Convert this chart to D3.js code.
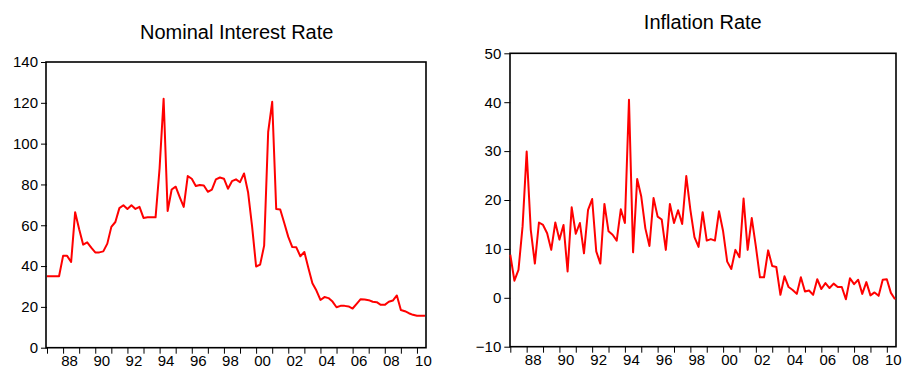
<!DOCTYPE html>
<html>
<head>
<meta charset="utf-8">
<script src="https://cdn.jsdelivr.net/npm/d3@7"></script>
<style>
  body { margin: 0; background: #fff; }
  svg { display: block; font-family: "Liberation Sans", Arial, sans-serif; }
</style>
</head>
<body>
<svg id="chart" width="903" height="371"></svg>
<script>
// Quarterly observations 1987Q1 .. 2010Q3
const startYear = 1987;
const tickYears = d3.range(1987, 2011);            // yearly tick marks
const labelYears = d3.range(1988, 2011, 2);        // labelled years
const interestTicks = [0, 20, 40, 60, 80, 100, 120, 140];
const inflationTicks = [-10, 0, 10, 20, 30, 40, 50];

const interestRate = [
  35, 35, 35, 35, 45, 45, 42, 66.4, 58, 50.5,
  51.6, 49, 46.7, 46.7, 47.2, 51, 59.2, 61.6, 68.4, 69.8,
  68, 69.8, 68, 69, 63.6, 63.9, 63.9, 63.9, 88, 122,
  67, 77.5, 78.9, 73.8, 69, 84.1, 82.8, 79.2, 79.7, 79.5,
  76.4, 77.5, 82.5, 83.4, 82.8, 77.9, 81.6, 82.5, 81.1, 85.4,
  76.2, 59.5, 39.8, 40.7, 50, 105.7, 120.5, 68, 67.7, 61.1,
  54.3, 49.3, 49.2, 44.8, 46.9, 39, 31.6, 28, 23.4, 24.8,
  24.3, 22.6, 19.8, 20.5, 20.5, 20.2, 19.2, 21.5, 23.8, 23.6,
  23.3, 22.5, 22.3, 21, 21, 22.5, 23.1, 25.6, 18.5, 17.9,
  16.9, 16.1, 15.7, 15.7, 15.6
];

const inflationRate = [
  8.8, 3.5, 5.7, 14.6, 29.9, 13.9, 7, 15.4, 14.9, 13.2,
  9.8, 15.4, 11.9, 14.9, 5.4, 18.5, 13.1, 15.3, 9.1, 18,
  20.2, 9.5, 7, 19.2, 13.6, 12.9, 11.7, 18.1, 15.3, 40.5,
  9.3, 24.3, 20.7, 14.2, 10.6, 20.4, 16.6, 16, 9.8, 19.2,
  15.3, 17.9, 15.1, 24.9, 18, 12.4, 10.4, 17.5, 11.7, 12,
  11.7, 17.7, 13.6, 7.4, 5.9, 9.8, 8.3, 20.3, 9.8, 16.3,
  10.5, 4.2, 4.2, 9.7, 6.5, 6.3, 0.6, 4.4, 2.2, 1.6,
  0.8, 4.2, 1.3, 1.5, 0.6, 3.8, 1.8, 3, 2, 2.9,
  2.2, 2.2, -0.3, 4, 2.8, 3.7, 0.8, 3.2, 0.5, 1.1,
  0.4, 3.7, 3.8, 1, -0.3
];

const svg = d3.select("#chart");

function panel(cfg) {
  const { left, right, top, bottom, yDomain, yTicks, values, title, titleX, titleY } = cfg;
  const n = values.length;
  const x = d3.scaleLinear().domain([0, n - 1]).range([left, right]);
  const y = d3.scaleLinear().domain(yDomain).range([bottom, top]);
  const g = svg.append("g");

  // y axis
  const yAxis = d3.axisLeft(y).tickValues(yTicks).tickSize(6).tickPadding(3).tickFormat(d3.format("d"));
  const ya = g.append("g").attr("transform", `translate(${x.range()[0] - (cfg.xPad || 0)},0)`).call(yAxis);
  ya.select(".domain").remove();
  ya.selectAll("text").attr("font-size", 15).attr("fill", "#000").attr("font-family", "Liberation Sans, Arial, sans-serif");
  ya.selectAll("line").attr("stroke", "#000");

  // x axis (year ticks at first quarter of each year)
  const xAxis = d3.axisBottom(x)
    .tickValues(tickYears.map(yy => (yy - startYear) * 4))
    .tickSize(6).tickPadding(2)
    .tickFormat(i => {
      const yr = startYear + i / 4;
      return labelYears.includes(yr) ? String(yr).slice(2) : "";
    });
  const xa = g.append("g").attr("transform", `translate(0,${bottom})`).call(xAxis);
  xa.select(".domain").remove();
  xa.selectAll("text").attr("font-size", 15).attr("fill", "#000").attr("x", 6)
    .attr("font-family", "Liberation Sans, Arial, sans-serif");
  xa.selectAll("line").attr("stroke", "#000");

  // frame
  g.append("rect")
    .attr("x", cfg.frameLeft).attr("y", top)
    .attr("width", cfg.frameRight - cfg.frameLeft).attr("height", bottom - top)
    .attr("fill", "none").attr("stroke", "#000").attr("stroke-width", 1.6);

  // line
  const line = d3.line().x((d, i) => x(i)).y(d => y(d));
  g.append("path").datum(values)
    .attr("d", line).attr("fill", "none")
    .attr("stroke", "#ff0000").attr("stroke-width", 2).attr("stroke-linejoin", "round");

  // title
  g.append("text").attr("x", titleX).attr("y", titleY)
    .attr("text-anchor", "middle").attr("font-size", 20).attr("fill", "#000")
    .text(title);
}

panel({
  left: 47, right: 425, top: 62, bottom: 347.7,
  frameLeft: 46, frameRight: 426,
  yDomain: [0, 140], yTicks: interestTicks, values: interestRate,
  title: "Nominal Interest Rate", titleX: 236.7, titleY: 39.3
});

panel({
  left: 510.3, right: 895, top: 53.3, bottom: 346.7,
  frameLeft: 510, frameRight: 896,
  yDomain: [-10, 50], yTicks: inflationTicks, values: inflationRate,
  title: "Inflation Rate", titleX: 702.8, titleY: 29.3
});
</script>
</body>
</html>
